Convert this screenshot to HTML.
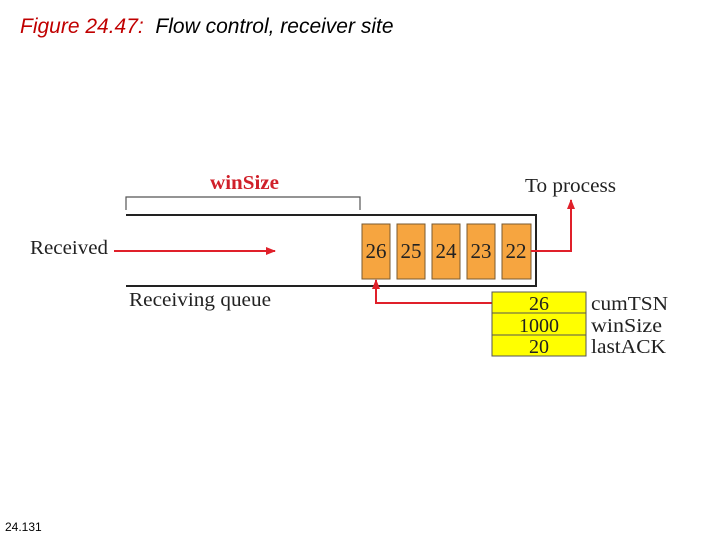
<!DOCTYPE html>
<html><head><style>
body{margin:0;background:#fff;width:720px;height:540px;overflow:hidden;position:relative}
.t{position:absolute;font-family:"Liberation Serif",serif;white-space:nowrap}
</style></head><body>
<div class="t" style="left:20px;top:15px;font-family:'Liberation Sans',sans-serif;font-style:italic;font-size:21px"><span style="color:#c00000">Figure 24.47:</span>&nbsp; Flow control, receiver site</div>
<div class="t" style="left:5px;top:520px;font-family:'Liberation Sans',sans-serif;font-size:12px">24.131</div>
<svg width="720" height="540" style="position:absolute;left:0;top:0">
<defs><marker id="a" markerWidth="10" markerHeight="8" refX="9" refY="4" orient="auto" markerUnits="userSpaceOnUse"><path d="M0,0L10,4L0,8z" fill="#e0202a"/></marker></defs>
<path d="M126,210V197H360V210" fill="none" stroke="#555" stroke-width="1.2"/>
<path d="M126,215H536V286H126" fill="none" stroke="#222" stroke-width="2"/>
<g fill="#f6a540" stroke="#7a5a30" stroke-width="1">
<rect x="362" y="224" width="28" height="55"/><rect x="397" y="224" width="28" height="55"/><rect x="432" y="224" width="28" height="55"/><rect x="467" y="224" width="28" height="55"/><rect x="502" y="224" width="29" height="55"/></g>
<g font-family="Liberation Serif" font-size="21" text-anchor="middle" fill="#222">
<text x="376" y="258">26</text><text x="411" y="258">25</text><text x="446" y="258">24</text><text x="481" y="258">23</text><text x="516" y="258">22</text></g>
<g stroke="#e0202a" stroke-width="2" fill="none">
<path d="M114,251H275" marker-end="url(#a)"/>
<path d="M531,251H571V200" marker-end="url(#a)"/>
<path d="M492,303H376V280" marker-end="url(#a)"/></g>
<g fill="#ffff00" stroke="#555" stroke-width="1">
<rect x="492" y="292" width="94" height="21"/><rect x="492" y="313" width="94" height="22"/><rect x="492" y="335" width="94" height="21"/></g>
<g font-family="Liberation Serif" font-size="20" text-anchor="middle" fill="#222">
<text x="539" y="310">26</text><text x="539" y="332">1000</text><text x="539" y="353">20</text></g>
<g font-family="Liberation Serif" font-size="20" fill="#222">
<text x="591" y="310" textLength="77" lengthAdjust="spacingAndGlyphs">cumTSN</text>
<text x="591" y="332" textLength="71" lengthAdjust="spacingAndGlyphs">winSize</text>
<text x="591" y="353" textLength="75" lengthAdjust="spacingAndGlyphs">lastACK</text>
<text x="30" y="254" textLength="78" lengthAdjust="spacingAndGlyphs">Received</text>
<text x="129" y="306" textLength="142" lengthAdjust="spacingAndGlyphs">Receiving queue</text>
<text x="525" y="192" textLength="91" lengthAdjust="spacingAndGlyphs">To process</text></g>
<text x="210" y="189" font-family="Liberation Serif" font-size="20" font-weight="bold" fill="#d0202a" textLength="69" lengthAdjust="spacingAndGlyphs">winSize</text>
</svg>
</body></html>
